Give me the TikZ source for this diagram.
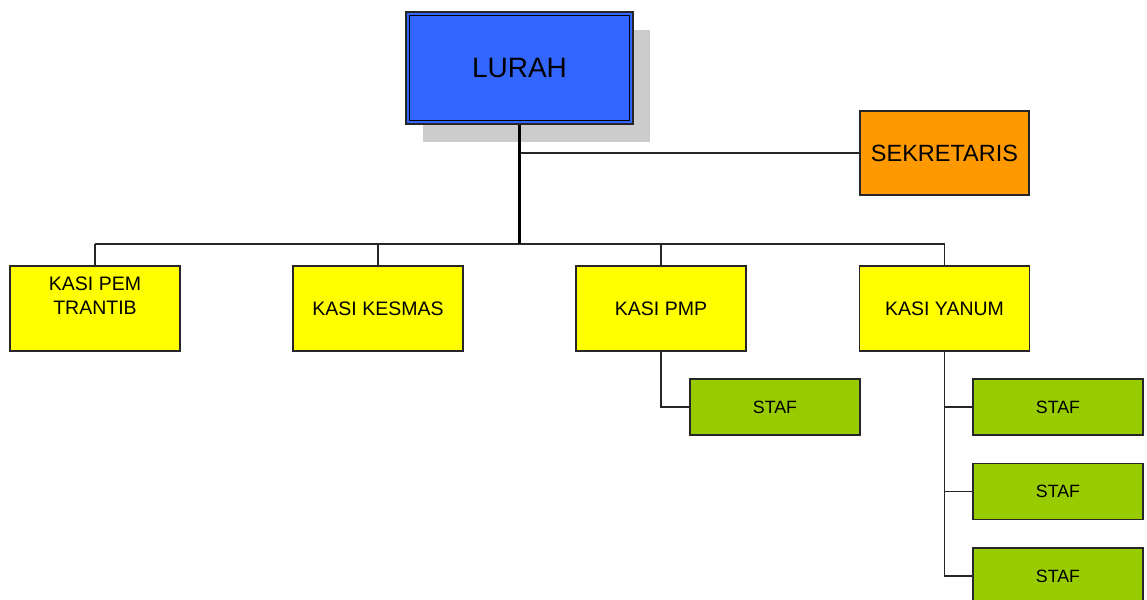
\documentclass[tikz,border=0pt]{standalone}
\usepackage{fontspec}
\setmainfont{Liberation Sans}
\usetikzlibrary{shadows}
\definecolor{lurahblue}{HTML}{3366FF}
\definecolor{sekorange}{HTML}{FF9900}
\definecolor{kasiyellow}{HTML}{FFFF00}
\definecolor{stafgreen}{HTML}{99CC00}
\definecolor{shadowgray}{HTML}{CCCCCC}
\tikzset{
  box/.style={draw=black!85, line width=1.3pt, inner sep=0pt},
  lurahbox/.style={box, fill=lurahblue, minimum width=227pt, minimum height=112pt,
     font=\fontsize{28}{32}\selectfont,
     drop shadow={shadow xshift=17pt, shadow yshift=-18pt, fill=shadowgray, opacity=1}},
  sekbox/.style={box, fill=sekorange, minimum width=169pt, minimum height=84pt,
     font=\fontsize{23.5}{27}\selectfont},
  kasibox/.style={box, fill=kasiyellow, minimum width=170pt, minimum height=85pt,
     font=\fontsize{19.5}{24}\selectfont},
  kasitext/.style={align=center, font=\fontsize{19.5}{24}\selectfont},
  stafbox/.style={box, fill=stafgreen, minimum width=170pt, minimum height=56pt,
     font=\fontsize{17.8}{20}\selectfont},
  conn/.style={draw=black!85, line width=1.3pt},
  mainconn/.style={draw=black, line width=2.2pt},
}
\begin{document}
\begin{tikzpicture}[x=1pt,y=-1pt]
\useasboundingbox (0,0) rectangle (1147,599);
\node[lurahbox] (lurah) at (519.5,68) {LURAH};
\draw[line width=1.2pt] ([shift={(4pt,-4pt)}]lurah.north west) rectangle ([shift={(-4pt,4pt)}]lurah.south east);
\node[sekbox] (sek) at (944.5,153) {SEKRETARIS};
\node[kasibox, label={[kasitext, yshift=12.5pt]center:KASI PEM\\TRANTIB}] (k1) at (95,308.5) {};
\node[kasibox] (k2) at (378,308.5) {KASI KESMAS};
\node[kasibox] (k3) at (661,308.5) {KASI PMP};
\node[kasibox] (k4) at (944.5,308.5) {KASI YANUM};
\node[stafbox] (s1) at (775,407) {STAF};
\node[stafbox] (s2) at (1058,407) {STAF};
\node[stafbox] (s3) at (1058,491.5) {STAF};
\node[stafbox] (s4) at (1058,576) {STAF};
\coordinate (bus) at (519.5,244);
\draw[conn] (lurah.south |- sek.west) -- (sek.west);
\draw[conn] (k1.north |- bus) -- (k4.north |- bus);
\draw[mainconn] (lurah.south) -- (bus);
\foreach \k in {k1,k2,k3,k4} \draw[conn] (\k.north |- bus) -- (\k.north);
\draw[conn] (k3.south) |- (s1.west);
\draw[conn] (k4.south) |- (s4.west);
\draw[conn] (k4.south |- s2.west) -- (s2.west);
\draw[conn] (k4.south |- s3.west) -- (s3.west);
\end{tikzpicture}
\end{document}
